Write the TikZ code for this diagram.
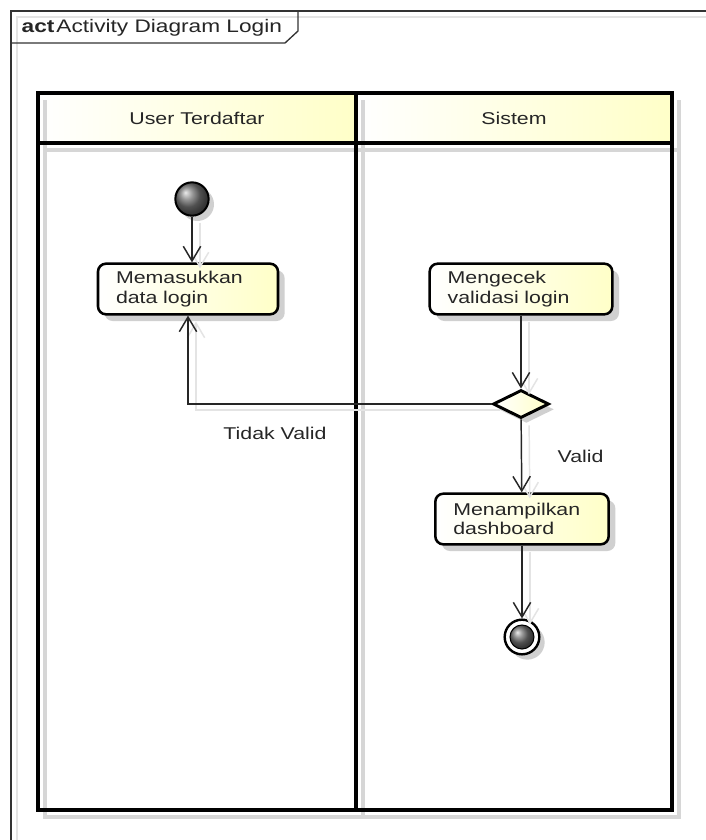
\documentclass[tikz,border=0pt]{standalone}
\usepackage{fontspec}
\setmainfont{Liberation Sans}[FakeStretch=1.25]
\usetikzlibrary{arrows.meta,shadows,shapes.geometric}
\definecolor{laneyellow}{HTML}{FFFFC8}
\definecolor{shadowgray}{HTML}{D6D6D6}
\definecolor{lineshadow}{HTML}{E4E4E4}
\tikzset{every node/.style={font=\fontsize{12.8}{14.5}\selectfont,text=black!85},
 frame/.style={draw=black!80,line width=1pt},
 frameshadow/.style={draw=lineshadow,line width=1pt},
 lane/.style={draw=black,line width=2.3pt},
 laneshadow/.style={draw=shadowgray,line width=2.4pt},
 header/.style={left color=white,right color=laneyellow},
 action/.style={draw,line width=1.9pt,rounded corners=6pt,left color=white,right color=laneyellow,
  minimum width=135pt,minimum height=38pt,text width=108pt,align=left,inner xsep=13.5pt,
  drop shadow={shadow xshift=5pt,shadow yshift=-5pt,fill=black!30,opacity=.6}},
 decision/.style={diamond,draw,line width=2.2pt,aspect=2,inner sep=0pt,
  minimum width=42pt,minimum height=21pt,left color=white,right color=laneyellow,
  drop shadow={shadow xshift=4pt,shadow yshift=-4pt,fill=black!30,opacity=.6}},
 initial/.style={circle,draw,line width=1.5pt,minimum size=25pt,inner sep=0pt,ball color=black!55,
  drop shadow={shadow xshift=4pt,shadow yshift=-4pt,fill=black!30,opacity=.6}},
 finalring/.style={circle,draw,line width=1.8pt,minimum size=26pt,inner sep=0pt,fill=white,
  drop shadow={shadow xshift=4pt,shadow yshift=-4pt,fill=black!30,opacity=.6}},
 finaldot/.style={circle,draw,line width=0.8pt,minimum size=18pt,inner sep=0pt,ball color=black!55},
 flow/.style={draw=black!85,line width=1.1pt,-{Straight Barb[length=11pt,width=13pt,line width=1.1pt]}},
 flowshadow/.style={draw=lineshadow,line width=1.1pt,-{Straight Barb[length=11pt,width=13pt,line width=1.1pt]},
  transform canvas={xshift=6pt,yshift=-4.5pt}},
 }

\begin{document}
\begin{tikzpicture}[x=0.75pt,y=-0.75pt]
    \useasboundingbox (0,0) rectangle (706,840);
    \fill[white] (0,0) rectangle (706,840);
    \clip (0,0) rectangle (706,840);
    \draw[frameshadow] (17,850) -- (17,17) -- (720,17);
    \draw[frame] (11,850) -- (11,11) -- (720,11);
    \draw[frame] (11,43) -- (285,43) -- (298,31) -- (298,11);
    \node[anchor=west,font=\fontsize{13.6}{15}\selectfont] (title) at (17,28) {\textbf{act}\kern1.5pt Activity Diagram Login};

    \fill[header] (38,93) rectangle (356,143);
    \fill[header] (356,93) rectangle (672,143);
    \draw[laneshadow] (45,100) -- (45,817) -- (679,817) -- (679,100);
    \draw[laneshadow] (363,100) -- (363,817);
    \draw[laneshadow] (45,150) -- (679,150);
    \draw[lane] (38,93) rectangle (356,810);
    \draw[lane] (356,93) rectangle (672,810);
    \draw[lane] (38,143) -- (672,143);
    \node (userlane) at (197,118) {User Terdaftar};
    \node (sistemlane) at (514,118) {Sistem};

    \node[initial] (start) at (192,199) {};
    \node[action] (masuk) at (188,289) {Memasukkan\\data login};
    \node[action,minimum width=137pt,text width=110pt] (cek) at (521,289) {Mengecek\\validasi login};
    \node[decision] (valid) at (521,404) {};
    \node[action,minimum width=130pt,text width=103pt] (dashboard) at (522,519) {Menampilkan\\dashboard};
    \node[finalring] (final) at (522,637) {};
    \node[finaldot] (finalinner) at (final) {};

    \path[flowshadow] (start) -- (start |- masuk.north);
    \path[flowshadow] (cek) -- (valid);
    \path[flowshadow] (valid.west) -| (masuk.south);
    \path[flowshadow] (valid) -- (dashboard);
    \path[flowshadow] (dashboard) -- (final);

    \draw[flow] (start) -- (start |- masuk.north);
    \draw[flow] (cek) -- (valid);
    \draw[flow] (valid.west) -| (masuk.south);
    \draw[flow] (valid) -- (dashboard);
    \draw[flow] (dashboard) -- (final);

    \node (tidakvalid) at (275,433) {Tidak Valid};
    \node[anchor=west] (validlabel) at (553,456) {Valid};
\end{tikzpicture}
\end{document}
